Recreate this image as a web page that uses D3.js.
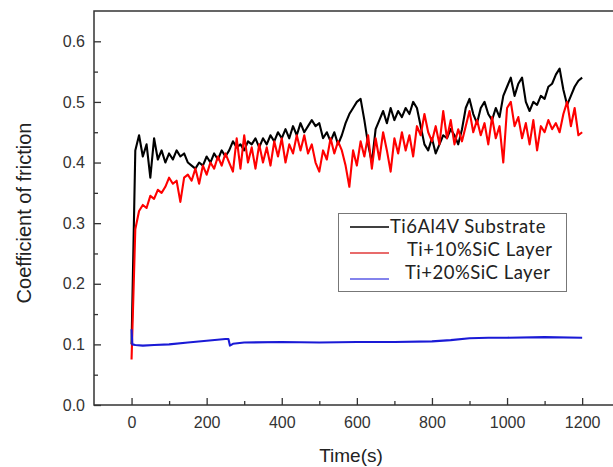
<!DOCTYPE html>
<html>
<head>
<meta charset="utf-8">
<script src="https://cdn.jsdelivr.net/npm/d3@7"></script>
<style>
  html, body { margin: 0; background: #fff; }
  svg { display: block; overflow: hidden; }
</style>
</head>
<body>
<friction-chart></friction-chart>
<script>
// readings taken every 10 s off the figure
const timeSteps = d3.range(0, 1201, 10);

const substrate = [
  0.10, 0.42, 0.445, 0.41, 0.43, 0.375, 0.44, 0.405, 0.42, 0.40,
  0.415, 0.405, 0.42, 0.41, 0.415, 0.40, 0.395, 0.39, 0.40, 0.395,
  0.41, 0.40, 0.415, 0.405, 0.42, 0.41, 0.42, 0.435, 0.425, 0.43,
  0.42, 0.435, 0.43, 0.44, 0.425, 0.44, 0.43, 0.445, 0.435, 0.45,
  0.44, 0.455, 0.44, 0.46, 0.445, 0.465, 0.45, 0.46, 0.47, 0.46,
  0.465, 0.44, 0.45, 0.435, 0.45, 0.43, 0.445, 0.465, 0.48, 0.49,
  0.50, 0.505, 0.47, 0.43, 0.40, 0.455, 0.47, 0.485, 0.465, 0.49,
  0.47, 0.485, 0.475, 0.49, 0.48, 0.50, 0.49, 0.46, 0.43, 0.42,
  0.44, 0.415, 0.43, 0.445, 0.44, 0.455, 0.445, 0.43, 0.455, 0.49,
  0.505, 0.48, 0.465, 0.49, 0.50, 0.48, 0.47, 0.49, 0.475, 0.51,
  0.525, 0.54, 0.51, 0.53, 0.54, 0.50, 0.485, 0.50, 0.495, 0.51,
  0.505, 0.525, 0.53, 0.545, 0.555, 0.52, 0.495, 0.51, 0.525, 0.535,
  0.54
];

const sic10 = [
  0.075, 0.29, 0.32, 0.33, 0.325, 0.345, 0.34, 0.355, 0.35, 0.36,
  0.375, 0.365, 0.37, 0.335, 0.375, 0.38, 0.37, 0.39, 0.365, 0.395,
  0.38, 0.40, 0.39, 0.41, 0.395, 0.415, 0.40, 0.385, 0.44, 0.39,
  0.445, 0.40, 0.425, 0.39, 0.43, 0.40, 0.425, 0.395, 0.435, 0.41,
  0.44, 0.40, 0.43, 0.415, 0.445, 0.42, 0.445, 0.415, 0.43, 0.40,
  0.385, 0.42, 0.405, 0.44, 0.415, 0.435, 0.42, 0.395, 0.36, 0.42,
  0.395, 0.435, 0.41, 0.445, 0.39, 0.44, 0.405, 0.45, 0.42, 0.385,
  0.44, 0.415, 0.45, 0.42, 0.445, 0.41, 0.46, 0.445, 0.48, 0.45,
  0.435, 0.46, 0.43, 0.485, 0.44, 0.47, 0.43, 0.455, 0.435, 0.46,
  0.485, 0.45, 0.47, 0.445, 0.465, 0.43, 0.475, 0.44, 0.46, 0.40,
  0.49, 0.50, 0.46, 0.475, 0.44, 0.465, 0.43, 0.47, 0.42, 0.46,
  0.45, 0.47, 0.455, 0.465, 0.45, 0.48, 0.50, 0.46, 0.49, 0.445,
  0.45
];

const sic20Time = [0, 2, 10, 30, 60, 100, 150, 200, 250, 258, 262, 270, 300, 400, 500, 600, 700, 800, 850, 900, 950, 1000, 1100, 1200];
const sic20 = [0.125, 0.10, 0.099, 0.098, 0.099, 0.10, 0.103, 0.106, 0.109, 0.109, 0.098, 0.101, 0.103, 0.104, 0.103, 0.104, 0.104, 0.105, 0.107, 0.11, 0.111, 0.111, 0.112, 0.111];

const seriesNames = ['Ti6Al4V Substrate', 'Ti+10%SiC Layer', 'Ti+20%SiC Layer'];
const seriesColors = ['#000000', '#ff0000', '#1a1ad6'];

const xMajor = [0, 200, 400, 600, 800, 1000, 1200];
const xMinor = [100, 300, 500, 700, 900, 1100];
const yMajor = [0.0, 0.1, 0.2, 0.3, 0.4, 0.5, 0.6];
const yMinor = [0.05, 0.15, 0.25, 0.35, 0.45, 0.55];

class FrictionChart extends HTMLElement {
    constructor() {
        super();
        this.width = 613;
        this.height = 467;
        this.svg = d3.select(this).append('svg')
            .attr('width', this.width)
            .attr('height', this.height);
    }

    connectedCallback() {
        this.series = [
            timeSteps.map((t, i) => [t, substrate[i]]),
            timeSteps.map((t, i) => [t, sic10[i]]),
            sic20Time.map((t, i) => [t, sic20[i]])
        ];
        this.#createScales();
        this.#drawLines();
        this.#drawAxes();
        this.#drawLegend();
    }

    #createScales() {
        this.x = d3.scaleLinear().domain([-100, 1300]).range([94, 619.7]);
        this.y = d3.scaleLinear().domain([0, 0.65]).range([405, 11]);
    }

    #drawLines() {
        const line = d3.line()
            .x(d => this.x(d[0]))
            .y(d => this.y(d[1]));

        this.svg.append('clipPath')
                .attr('id', 'plot-clip')
            .append('rect')
                .attr('x', 94).attr('y', 11)
                .attr('width', 526).attr('height', 394);

        this.svg.append('g')
                .attr('clip-path', 'url(#plot-clip)')
                .attr('fill', 'none')
            .selectAll('path')
            .data(this.series)
            .join('path')
                .attr('stroke', (d, i) => seriesColors[i])
                .attr('stroke-width', 2.1)
                .attr('stroke-linejoin', 'round')
                .attr('d', line);
    }

    #drawAxes() {
        const frame = '#333';
        const font = '"Liberation Sans", Arial, sans-serif';

        this.svg.append('rect')
            .attr('x', this.x(-100)).attr('y', this.y(0.65))
            .attr('width', this.x(1300) - this.x(-100))
            .attr('height', this.y(0) - this.y(0.65))
            .attr('fill', 'none')
            .attr('stroke', frame)
            .attr('stroke-width', 1.5);

        const styleAxis = g => {
            g.select('.domain').remove();
            g.selectAll('line').attr('stroke', frame).attr('stroke-width', 1.3);
            g.selectAll('text')
                .attr('fill', '#333')
                .style('font-family', font)
                .style('font-size', '16px');
        };

        this.svg.append('g')
            .attr('transform', `translate(0,${this.y(0)})`)
            .call(d3.axisBottom(this.x).tickValues(xMajor).tickSize(-7).tickPadding(12).tickFormat(d3.format('d')))
            .call(styleAxis);
        this.svg.append('g')
            .attr('transform', `translate(0,${this.y(0)})`)
            .call(d3.axisBottom(this.x).tickValues(xMinor).tickSize(-4).tickFormat(''))
            .call(styleAxis);

        this.svg.append('g')
            .attr('transform', `translate(${this.x(-100)},0)`)
            .call(d3.axisLeft(this.y).tickValues(yMajor).tickSize(-7).tickPadding(9).tickFormat(d3.format('.1f')))
            .call(styleAxis);
        this.svg.append('g')
            .attr('transform', `translate(${this.x(-100)},0)`)
            .call(d3.axisLeft(this.y).tickValues(yMinor).tickSize(-4).tickFormat(''))
            .call(styleAxis);

        this.svg.append('text')
            .attr('x', 351).attr('y', 462)
            .attr('text-anchor', 'middle')
            .attr('fill', '#222')
            .style('font-family', font)
            .style('font-size', '19px')
            .text('Time(s)');

        this.svg.append('text')
            .attr('transform', 'translate(31,213) rotate(-90)')
            .attr('text-anchor', 'middle')
            .attr('fill', '#222')
            .style('font-family', font)
            .style('font-size', '20px')
            .text('Coefficient of friction');
    }

    #drawLegend() {
        const rows = [
            { name: seriesNames[0], color: seriesColors[0], lineY: 227, textX: 390, textY: 233 },
            { name: seriesNames[1], color: '#e03a3a', lineY: 253, textX: 407, textY: 256 },
            { name: seriesNames[2], color: '#5a5ae6', lineY: 279, textX: 405, textY: 279 }
        ];

        const legend = this.svg.append('g');
        legend.append('rect')
            .attr('x', 338.5).attr('y', 213.5)
            .attr('width', 228).attr('height', 78)
            .attr('fill', '#fff')
            .attr('stroke', '#777')
            .attr('stroke-width', 1);

        legend.selectAll('line')
            .data(rows)
            .join('line')
                .attr('x1', 350).attr('x2', 389)
                .attr('y1', d => d.lineY).attr('y2', d => d.lineY)
                .attr('stroke', d => d.color)
                .attr('stroke-width', 1.5);

        legend.selectAll('text')
            .data(rows)
            .join('text')
                .attr('x', d => d.textX)
                .attr('y', d => d.textY)
                .attr('fill', '#222')
                .style('font-family', 'Lato, "Open Sans", sans-serif')
                .style('font-size', '18.5px')
                .style('letter-spacing', '0.5px')
                .text(d => d.name);
    }

    static define(tag = 'friction-chart') {
        customElements.define(tag, this);
    }
}

FrictionChart.define();
</script>
</body>
</html>
